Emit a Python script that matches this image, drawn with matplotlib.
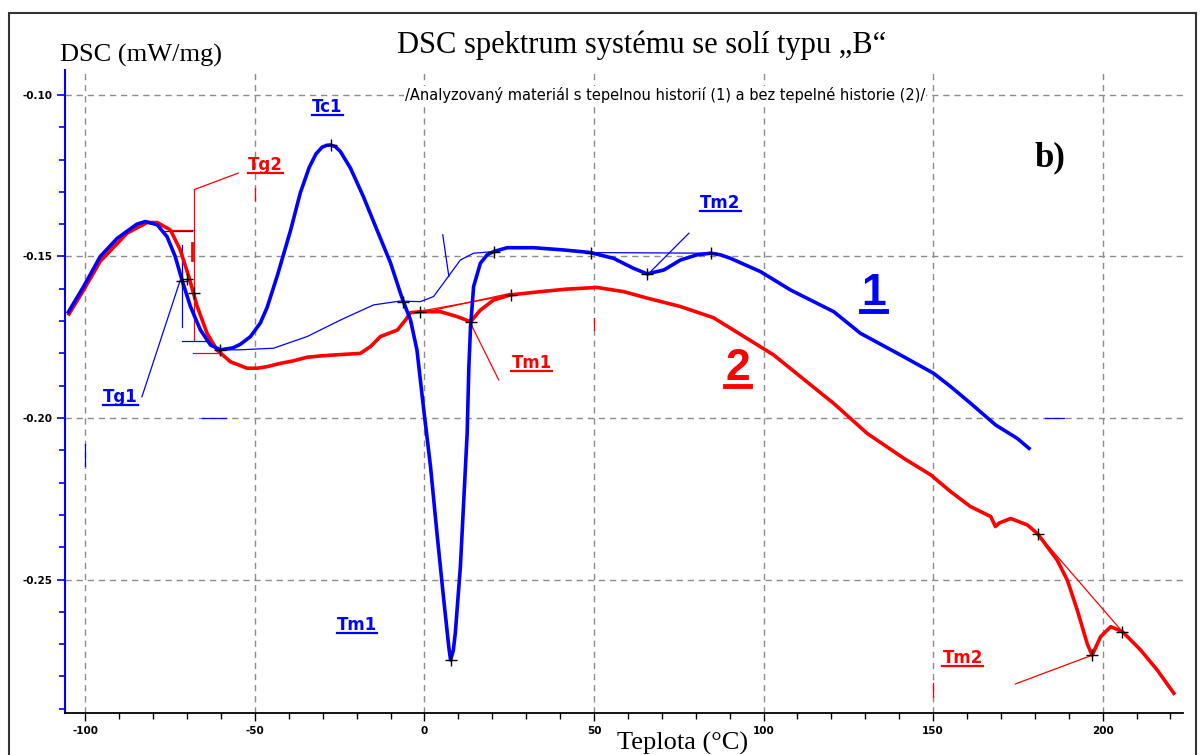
import matplotlib
matplotlib.use("Agg")
import matplotlib.pyplot as plt
from matplotlib.ticker import MultipleLocator, FormatStrFormatter
from matplotlib.lines import Line2D
from matplotlib.patches import Rectangle

plt.rcParams["axes.unicode_minus"] = False

# krivka 1 - material s tepelnou historii (modra)
t1 = [-105, -100.5, -95.6, -90.6, -84.8, -82.3, -78.8, -75.9, -73.5, -71.5, -69, -66.1,
      -63.1, -60.2, -56.5, -54.3, -51.3, -48.4, -46.4, -43.4, -39.5, -36.6, -34.0, -32.0,
      -30.2, -28.8, -27.7, -26.3, -24.8, -21.8, -18, -14, -10, -7.1, -6.2, -4.1, -2.2,
      -0.2, 1.8, 3.7, 5.7, 7.2, 7.7, 8.5, 9.1, 10.6, 11.6, 12.6, 13.1, 13.6, 14.5, 16.5,
      18.5, 20.4, 24.4, 32.2, 41.1, 49, 55.8, 61.7, 65.7, 70.6, 75.5, 80.4, 84.4, 87.3,
      90.3, 99.1, 108, 120.7, 128.6, 140.4, 150.2, 155.2, 161, 168.5, 174.8, 178.3]
dsc1 = [-0.1672, -0.1593, -0.1500, -0.1444, -0.1400, -0.1392, -0.1402, -0.1439, -0.1500,
        -0.1573, -0.1655, -0.1727, -0.1774, -0.1789, -0.1783, -0.1772, -0.1748, -0.1706,
        -0.1658, -0.1560, -0.1420, -0.1303, -0.1225, -0.1183, -0.1162, -0.1156, -0.1155,
        -0.1160, -0.1175, -0.1227, -0.1315, -0.1418, -0.1520, -0.1613, -0.1640, -0.1697,
        -0.1790, -0.1975, -0.2151, -0.2357, -0.2563, -0.2710, -0.2749, -0.2720, -0.2666,
        -0.2460, -0.2254, -0.2047, -0.1841, -0.1717, -0.1593, -0.1521, -0.1495, -0.1485,
        -0.1473, -0.1473, -0.1480, -0.1488, -0.1506, -0.1537, -0.1554, -0.1542, -0.1511,
        -0.1495, -0.1490, -0.1495, -0.1506, -0.1547, -0.1604, -0.1671, -0.1738, -0.1805,
        -0.1862, -0.1903, -0.1954, -0.2022, -0.2063, -0.2094]

# krivka 2 - material bez tepelne historie (cervena)
t2 = [-104.8, -100.5, -95.6, -87.7, -81.8, -78.8, -74.9, -72, -69.5, -67, -64.1, -61.2,
      -57.2, -52.3, -49.3, -46.4, -42.5, -38.6, -34.6, -30.7, -26.7, -18.9, -15.9, -13,
      -8, -5.6, -4.1, -1.2, 4.7, 9.6, 13.6, 16.5, 20.4, 25.4, 34.2, 42.1, 50.9, 58.8,
      65.7, 75.5, 81.4, 85.3, 93, 103, 110.9, 120.7, 130.6, 141.4, 149.3, 155.2, 161,
      167, 168.4, 169.5, 172.9, 177.8, 180.9, 186.6, 189.6, 192.5, 195.5, 196.9, 199.4,
      202.4, 205.8, 211.2, 216.1, 221]
dsc2 = [-0.1678, -0.1604, -0.1515, -0.1428, -0.1395, -0.1395, -0.1418, -0.1480, -0.1562,
        -0.1655, -0.1738, -0.1789, -0.1826, -0.1846, -0.1846, -0.1841, -0.1831, -0.1823,
        -0.1812, -0.1808, -0.1805, -0.1800, -0.1779, -0.1748, -0.1728, -0.1697, -0.1674,
        -0.1671, -0.1671, -0.1686, -0.1702, -0.1666, -0.1635, -0.1619, -0.1609, -0.1601,
        -0.1596, -0.1609, -0.1629, -0.1655, -0.1676, -0.1690, -0.1740, -0.1805, -0.1872,
        -0.1955, -0.2048, -0.2125, -0.2176, -0.2228, -0.2274, -0.2305, -0.2336, -0.2325,
        -0.2311, -0.2331, -0.2359, -0.2440, -0.2502, -0.2594, -0.2700, -0.2734, -0.2677,
        -0.2646, -0.2661, -0.2718, -0.2780, -0.2852]

# tenka pomocna krivka (zaklad krivky 1)
tb = [-60.2, -54.3, -44.5, -34.6, -24.8, -15, -7.1, -1.2, 2.7, 6.7, 10.6, 14.5, 20.4]
dscb = [-0.1789, -0.1789, -0.1784, -0.1748, -0.1697, -0.1650, -0.1638, -0.1640, -0.1624,
        -0.1567, -0.1511, -0.1490, -0.1485]

# pomocne usecky (T0, T1, v0, v1)
blue_lines = [(-71.5, -64.5, -0.1761, -0.1761), (49, 84.4, -0.1488, -0.1490),
              (66.7, 78, -0.1547, -0.1428), (-83.3, -72, -0.1934, -0.1573),
              (-71.5, -71.5, -0.1464, -0.1717), (-76.9, -68.5, -0.1421, -0.1421),
              (5.4, 7.2, -0.1433, -0.1562), (183, 188.5, -0.2000, -0.2000),
              (-65.5, -58.5, -0.2000, -0.2000), (-100, -100, -0.2080, -0.2150)]
red_lines = [(-54.9, -67.6, -0.1242, -0.1292), (-68.0, -68.0, -0.1292, -0.1758),
             (-74.9, -68.0, -0.1418, -0.1418), (-68.2, -60.2, -0.1800, -0.1800),
             (-4.6, 25.4, -0.1676, -0.1619), (2.0, 25.4, -0.1668, -0.1614),
             (13.6, 21.9, -0.1707, -0.1882), (180.9, 205.8, -0.2359, -0.2661),
             (174.3, 196.9, -0.2823, -0.2734), (-49.9, -49.9, -0.1288, -0.1325),
             (49.9, 49.9, -0.1690, -0.1728), (149.9, 149.9, -0.2820, -0.2864)]

# body oznacene krizkem
mark_t = [-27.7, -6.2, 7.7, 20.4, 49, 65.7, 84.4, -1.2, 13.6, 25.4, 180.9, 196.9, 205.8,
          -71.5, -70, -68, -60.2]
mark_v = [-0.1155, -0.1640, -0.2749, -0.1485, -0.1488, -0.1554, -0.1490, -0.1671, -0.1702,
          -0.1619, -0.2359, -0.2734, -0.2661, -0.1575, -0.1570, -0.1614, -0.1789]

# popisky
lab_text = ["Tc1", "Tg2", "Tg1", "Tm2", "Tm1", "Tm1", "Tm2"]
lab_t = [-28.6, -46.9, -89.7, 87.3, 31.6, -19.8, 158.7]
lab_v = [-0.1053, -0.1232, -0.1950, -0.1350, -0.1845, -0.2656, -0.2759]
lab_col = ["blue", "red", "blue", "blue", "red", "blue", "red"]

modra = "#0000ff"
cervena = "#ff0000"
barvy = {"blue": modra, "red": cervena}

fig = plt.figure(figsize=(12, 7.55), dpi=100)
ax = fig.add_axes([65/1200, 1-713/755, (1183-65)/1200, (713-70)/755])
ax.set_xlim(-106, 223.7)
ax.set_ylim(-0.2913, -0.0923)

ax.xaxis.set_major_locator(MultipleLocator(50))
ax.xaxis.set_minor_locator(MultipleLocator(10))
ax.yaxis.set_major_locator(MultipleLocator(0.05))
ax.yaxis.set_minor_locator(MultipleLocator(0.01))
ax.yaxis.set_major_formatter(FormatStrFormatter("%.2f"))
ax.grid(True, which="major", color="#8c8c8c", linestyle=(0, (4.5, 3.5)), linewidth=1.0)
ax.set_axisbelow(True)

for s in ["top", "right"]:
    ax.spines[s].set_visible(False)
ax.spines["left"].set_color(modra)
ax.spines["left"].set_linewidth(1.5)
ax.spines["bottom"].set_color("black")
ax.spines["bottom"].set_linewidth(1.3)
ax.tick_params(axis="y", which="both", color=modra, labelcolor="black", width=1.2)
ax.tick_params(axis="x", which="both", color="black", width=1.0)
ax.tick_params(which="major", length=6, labelsize=7.5, pad=3)
ax.tick_params(which="minor", length=4)
for lb in ax.get_xticklabels() + ax.get_yticklabels():
    lb.set_fontweight("bold")

# pomocne cary
ax.plot(tb, dscb, color=modra, lw=0.9)
for a, b, c, d in blue_lines:
    ax.plot([a, b], [c, d], color=modra, lw=0.9)
for a, b, c, d in red_lines:
    ax.plot([a, b], [c, d], color=cervena, lw=0.9)
ax.plot([-68.5, -68.5], [-0.1459, -0.1511], color=cervena, lw=2)

# hlavni krivky
ax.plot(t2, dsc2, color=cervena, lw=2.6, solid_joinstyle="round")
ax.plot(t1, dsc1, color=modra, lw=2.6, solid_joinstyle="round")
ax.plot(mark_t, mark_v, "+", color="black", ms=9, mew=1.0, ls="none")

texty = []
for s, x, y, c in zip(lab_text, lab_t, lab_v, lab_col):
    t = ax.text(x, y, s, color=barvy[c], fontsize=12, fontweight="bold",
                family="DejaVu Sans", ha="center", va="baseline")
    texty.append((t, 1.6, 3))
t = ax.text(132.4, -0.1650, "1", color=modra, fontsize=32, fontweight="bold",
            family="Liberation Sans", ha="center", va="baseline")
texty.append((t, 3.5, 6))
t = ax.text(92.3, -0.1882, "2", color=cervena, fontsize=32, fontweight="bold",
            family="Liberation Sans", ha="center", va="baseline")
texty.append((t, 3.5, 6))

fig.text(665/1200, 1-95/755,
         "/Analyzovaný materiál s tepelnou historií (1) a bez tepelné historie (2)/",
         fontsize=10.5, ha="center", va="center", family="DejaVu Sans",
         bbox=dict(facecolor="white", edgecolor="none", pad=0.5))

fig.text(642/1200, 1-45/755, "DSC spektrum systému se solí typu „B“", ha="center",
         va="center", family="Liberation Serif", fontsize=22)
fig.text(60/1200, 1-62/755, "DSC (mW/mg)", ha="left", va="baseline",
         family="Liberation Serif", fontsize=19)
fig.text(617/1200, 1-750/755, "Teplota (°C)", ha="left", va="baseline",
         family="Liberation Serif", fontsize=19)
fig.text(1050/1200, 1-158/755, "b)", ha="center", va="center",
         family="Liberation Serif", fontsize=25, fontweight="bold")

fig.add_artist(Rectangle((9/1200, -0.02), 1187/1200, 1-13/755+0.02, transform=fig.transFigure,
                         fill=False, edgecolor="#333333", lw=1.5))

# podtrzeni popisku
fig.canvas.draw()
W, H = fig.bbox.width, fig.bbox.height
for t, lw, off in texty:
    bb = t.get_window_extent()
    x, y = ax.transData.transform(t.get_position())
    yy = (y - off) / H
    fig.add_artist(Line2D([bb.x0 / W, bb.x1 / W], [yy, yy], transform=fig.transFigure,
                          color=t.get_color(), lw=lw))

fig.savefig("out.png", dpi=100)
